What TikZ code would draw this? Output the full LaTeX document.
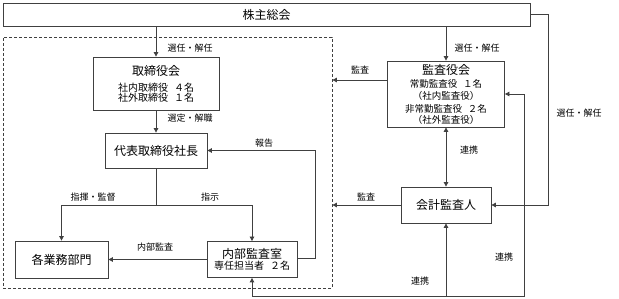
\documentclass[tikz,border=0pt]{standalone}
\usepackage{fontspec}
\setmainfont{Noto Sans CJK JP}
\usetikzlibrary{arrows.meta}
\definecolor{linegray}{HTML}{404040}
\newcommand\subline{\fontsize{10}{11.5}\selectfont}
\newcommand\smline{\fontsize{9.5}{11}\selectfont}
\tikzset{
  box/.style={draw=linegray,line width=0.8pt,fill=white,inner sep=0pt,align=center,font=\fontsize{12}{14}\selectfont},
  lbl/.style={font=\fontsize{9}{10}\selectfont,inner sep=0pt},
  conn/.style={draw=linegray,line width=0.8pt},
  dashbox/.style={draw=linegray,line width=0.8pt,dash pattern=on 3pt off 2pt,inner sep=0pt},
}

\begin{document}
\begin{tikzpicture}[>={Triangle[length=4.5pt,width=4.5pt]},x=1pt,y=-1pt]
  \useasboundingbox (0,0) rectangle (619,299);
  % 枠
  \node[dashbox,minimum width=329pt,minimum height=251pt] (kikan) at (167.5,162.5) {};
  \node[box,minimum width=527pt,minimum height=23pt] (soukai) at (266.5,14.5) {株主総会};
  \node[box,minimum width=126pt,minimum height=53pt] (torishimari) at (156,83.5)
    {取締役会\\[2pt]\subline 社内取締役\hspace{.6em}４名\\[-4pt]\subline 社外取締役\hspace{.6em}１名};
  \node[box,minimum width=102pt,minimum height=35pt] (shacho) at (156,150.5) {代表取締役社長};
  \node[box,minimum width=93pt,minimum height=37pt] (gyomu) at (61.5,259.5) {各業務部門};
  \node[box,minimum width=90pt,minimum height=36pt] (naibu) at (252,259.5)
    {内部監査室\\[-3pt]\subline 専任担当者\hspace{.6em}２名};
  \node[box,minimum width=117pt,minimum height=66pt] (kansayaku) at (446,94)
    {監査役会\\[-1pt]\smline 常勤監査役\hspace{.6em}１名\\[-2pt]\smline （社内監査役）\\[-1pt]\smline 非常勤監査役\hspace{.6em}２名\\[-3pt]\smline （社外監査役）};
  \node[box,minimum width=90pt,minimum height=36pt] (kaikei) at (446,205) {会計監査人};
  % 選任・解任，選定・解職
  \draw[conn,->] (soukai.south -| torishimari) -- (torishimari.north);
  \node[lbl] (l1) at (190,48) {選任・解任};
  \draw[conn,->] (torishimari) -- (shacho);
  \node[lbl] (l2) at (190,118) {選定・解職};
  % 指揮・監督，指示
  \coordinate (bunki) at (156,205);
  \draw[conn] (shacho.south) -- (bunki);
  \draw[conn,->] (bunki) -| (gyomu.north);
  \draw[conn,->] (bunki) -| (naibu.north);
  \node[lbl] (l3) at (93,197) {指揮・監督};
  \node[lbl] (l4) at (210,197) {指示};
  % 内部監査，報告
  \draw[conn,->] (naibu.west) -- (gyomu.east);
  \node[lbl] (l5) at (155,247) {内部監査};
  \coordinate (hokoku) at (315,258);
  \draw[conn,->] (naibu.east |- hokoku) -- (hokoku) |- (shacho.east);
  \node[lbl] (l6) at (264,143) {報告};
  % 監査役会
  \draw[conn,->] (soukai.south -| kansayaku) -- (kansayaku.north);
  \node[lbl] (l7) at (477,48) {選任・解任};
  \draw[conn,->] (kansayaku.west |- 0,80) -- (kikan.east |- 0,80);
  \node[lbl] (l8) at (360,70) {監査};
  \draw[conn,<->] (kansayaku) -- (kaikei);
  \node[lbl] (l9) at (469,150) {連携};
  % 会計監査人
  \draw[conn,->] (kaikei.west) -- (kaikei.west -| kikan.east);
  \node[lbl] (l10) at (366,197) {監査};
  \coordinate (soto) at (548,14.5);
  \draw[conn,->] (soukai.east) -- (soto) |- (kaikei.east);
  \node[lbl] (l11) at (579,113) {選任・解任};
  % 連携
  \coordinate (renkei) at (446,296);
  \coordinate (migi) at (524,296);
  \draw[conn,->] (renkei) -- (kaikei.south);
  \draw[conn,->] (renkei) -| (naibu.south);
  \draw[conn,->] (renkei) -- (migi) |- (kansayaku.east);
  \node[lbl] (l12) at (420,281) {連携};
  \node[lbl] (l13) at (504,257) {連携};
\end{tikzpicture}
\end{document}
